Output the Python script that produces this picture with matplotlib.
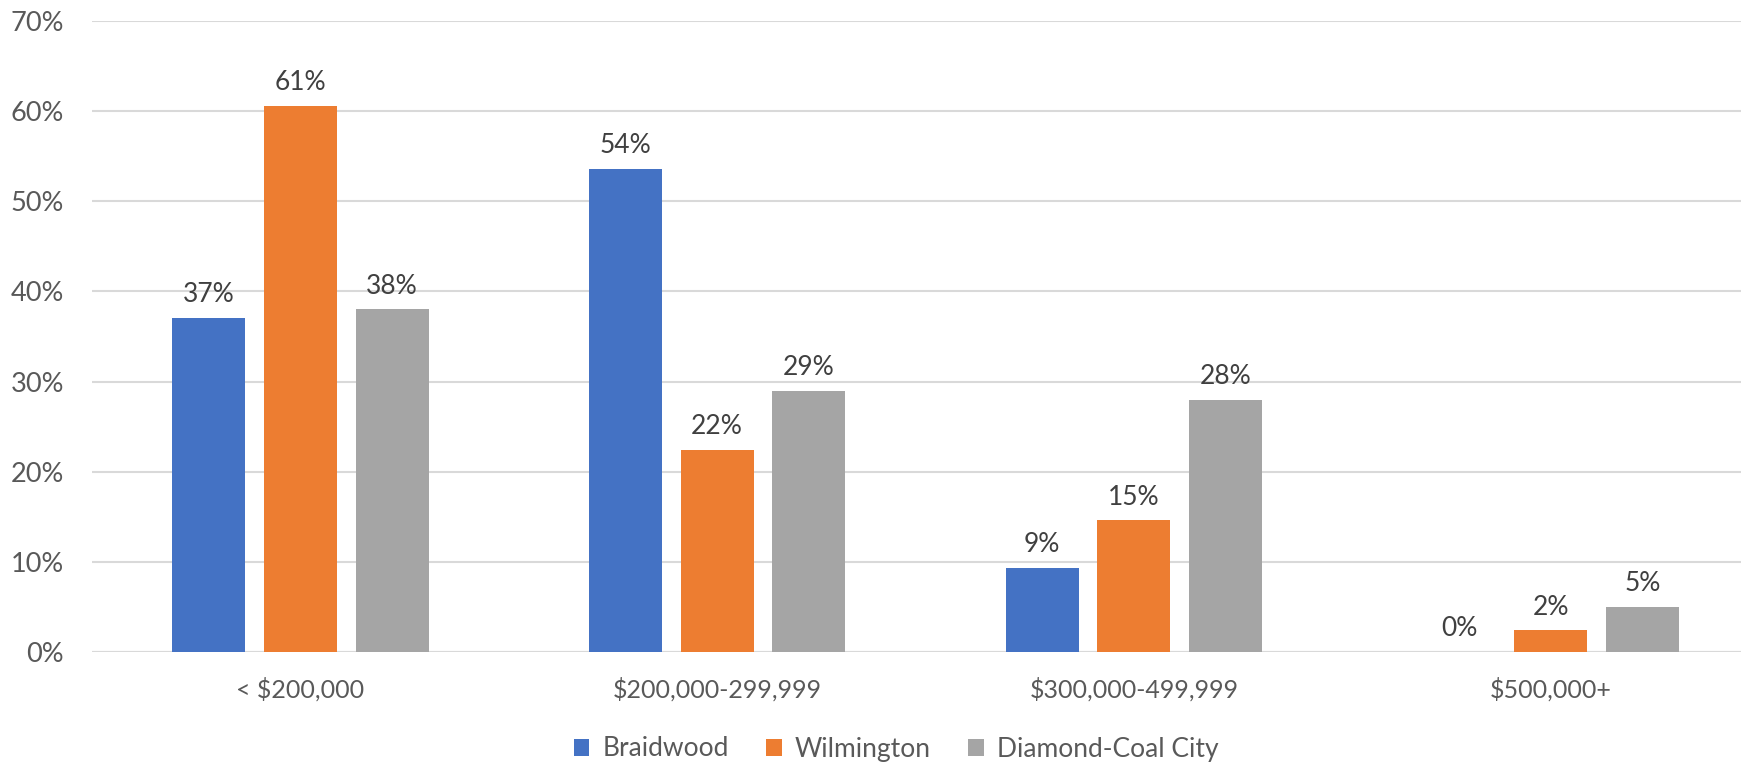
import numpy as np
import matplotlib.pyplot as plt
from matplotlib.ticker import FuncFormatter

categories = ['< $200,000', '$200,000-299,999', '$300,000-499,999', '$500,000+']
series_names = ['Braidwood', 'Wilmington', 'Diamond-Coal City']
braidwood = [0.371, 0.536, 0.093, 0.0]
wilmington = [0.606, 0.224, 0.146, 0.024]
diamond = [0.380, 0.290, 0.280, 0.050]
labels = [['37%', '54%', '9%', '0%'],
          ['61%', '22%', '15%', '2%'],
          ['38%', '29%', '28%', '5%']]
colors = ['#4472C4', '#ED7D31', '#A5A5A5']

plt.rcParams['font.family'] = ['Lato', 'DejaVu Sans']

fig = plt.figure(figsize=(17.41, 7.64), dpi=100)
# plot area runs a little past the right edge of the picture, as in the original
ax = fig.add_axes([92 / 1741, 1 - 652 / 764, 1667 / 1741, 631 / 764])

x = np.arange(len(categories))
width = 0.175
step = 0.22
for i, (vals, name) in enumerate(zip([braidwood, wilmington, diamond], series_names)):
    pos = x + (i - 1) * step
    ax.bar(pos, vals, width, color=colors[i], label=name, zorder=3)
    for p, v, t in zip(pos, vals, labels[i]):
        ax.text(p, v + 0.012, t, ha='center', va='bottom', fontsize=19, color='#404040')

ax.set_xlim(-0.5, 3.5)
ax.set_ylim(0, 0.70)
ax.set_yticks(np.arange(0, 0.71, 0.1))
ax.yaxis.set_major_formatter(FuncFormatter(lambda v, _: f'{v * 100:.0f}%'))
ax.grid(axis='y', color='#D9D9D9', linewidth=1.5, zorder=0)
ax.set_xticks(x)
ax.set_xticklabels(categories)
ax.tick_params(axis='both', length=0, labelcolor='#595959')
ax.tick_params(axis='x', pad=18, labelsize=18)
ax.tick_params(axis='y', pad=20, labelsize=19.5)
for s in ax.spines.values():
    s.set_visible(False)
ax.axhline(0, color='#D9D9D9', linewidth=1.5, zorder=2)

ax.legend(loc='center', bbox_to_anchor=(896 / 1741, 1 - 749 / 764),
          bbox_transform=fig.transFigure, ncol=3, frameon=False,
          fontsize=19, labelcolor='#595959', handlelength=0.6, handleheight=0.6,
          handletextpad=0.5, columnspacing=1.4)

fig.savefig('out.png', dpi=100)
